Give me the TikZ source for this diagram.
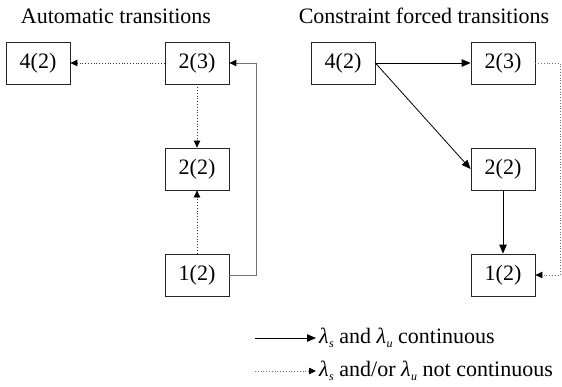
\documentclass[tikz,border=0pt]{standalone}
\usepackage{fontspec}
\setmainfont{Liberation Serif}
\usetikzlibrary{arrows.meta}
\newcommand{\lam}[1]{{\itshape λ}\kern0.5pt\raisebox{-0.45ex}{\fontsize{12}{12}\selectfont\itshape #1}}
\begin{document}
\begin{tikzpicture}[x=1pt,y=-1pt,
  box/.style={draw=black!85, line width=0.8pt, minimum width=64pt, minimum height=42pt, inner sep=0pt, font=\fontsize{22}{26}\selectfont},
  ttl/.style={font=\fontsize{22}{26}\selectfont, inner sep=0pt},
  lab/.style={font=\fontsize{22}{26}\selectfont, inner sep=0pt, anchor=west},
  bigtip/.style={-{Triangle[length=9pt,width=7.5pt,color=black]}},
  smalltip/.style={-{Triangle[length=7pt,width=6.5pt,color=black]}},
  solidarr/.style={bigtip, line width=0.8pt, draw=black},
  dotarr/.style={smalltip, line width=0.8pt, draw=black!80, dash pattern=on 1pt off 1.8pt},
  graydot/.style={smalltip, line width=0.8pt, draw=black!55, dash pattern=on 1pt off 1.8pt},
  graysolid/.style={smalltip, line width=1pt, draw=black!55}]
\useasboundingbox (0,0) rectangle (562,386);
% titles
\node[ttl] (t1) at (116,16) {Automatic transitions};
\node[ttl] (t2) at (424,16) {Constraint forced transitions};
% left panel
\node[box] (l42) at (38,63) {4(2)};
\node[box] (l23) at (197,63) {2(3)};
\node[box] (l22) at (197,169) {2(2)};
\node[box] (l12) at (197,275) {1(2)};
\coordinate (lc) at (256,63);
\draw[dotarr] (l23.west) -- (l42.east);
\draw[dotarr] (l23.south) -- (l22.north);
\draw[dotarr] (l12.north) -- (l22.south);
\draw[graysolid] (l12.east) -| (lc) -- (l23.east);
% right panel
\node[box] (r42) at (343,63) {4(2)};
\node[box] (r23) at (503,63) {2(3)};
\node[box] (r22) at (503,169) {2(2)};
\node[box] (r12) at (503,275) {1(2)};
\coordinate (rc) at (560,63);
\draw[solidarr] (r42.east) -- (r23.west);
\draw[solidarr] (r42.east) -- (r22.west);
\draw[solidarr] (r22.south) -- (r12.north);
\draw[graydot] (r23.east) -- (rc) |- (r12.east);
% legend
\coordinate (a1) at (255,338);
\coordinate (a2) at (316,338);
\coordinate (b1) at (255,371);
\coordinate (b2) at (316,371);
\draw[solidarr] (a1) -- (a2);
\draw[graydot] (b1) -- (b2);
\node[lab] (la) at (319,338) {\lam{s} and \lam{u} continuous};
\node[lab] (lb) at (319,371) {\lam{s} and/or \lam{u} not continuous};
\end{tikzpicture}
\end{document}
